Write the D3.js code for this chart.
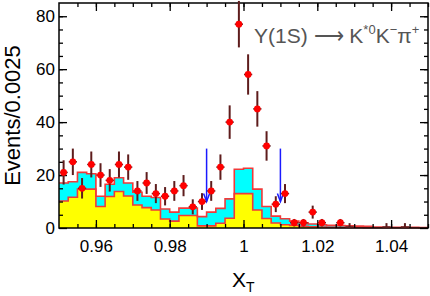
<!DOCTYPE html>
<html>
<head>
<meta charset="utf-8">
<script src="https://cdn.jsdelivr.net/npm/d3@7"></script>
<style>
  body { margin: 0; background: #fff; }
  svg { display: block; font-family: "Liberation Sans", Arial, sans-serif; }
</style>
</head>
<body>
<svg id="chart" width="430" height="296"></svg>
<script>
// X_T histogram, bins of 0.0025 from 0.95 to 1.05
const xStart = 0.95;
const binWidth = 0.0025;

// data points (events per bin)
const counts = [21, 25, 15, 24, 20, 18, 24, 23, 14, 17, 13, 12, 14, 16, 8, 10, 14, 23, 40, 77,
                58, 45, 31, 9, 13, 2, 2, 6, 2, 0, 2, 0, 0, 0, 0, 0, 0, 0, 0, 0];
// empty bins drawn with an upper error bar only
const emptyShown = [31, 35, 37];
const emptyUpper = 1.84;

// stacked background: total (cyan top) and yellow component
const totalBg = [17, 17.5, 21, 20.5, 12, 16.5, 19, 17, 13.5, 12, 11.5, 7.2, 6, 7.5, 7.5, 4.3, 6, 7.4, 11, 22.2,
                 22.6, 14.7, 8.1, 4.5, 3.5, 2.6, 2.0, 1.5, 1.2, 1.0, 0.9, 0.8, 0.7, 0.6, 0.4, 0.3, 0.3, 0.3, 0.3, 0.2];
const yellowBg = [10.2, 11.6, 14.7, 14.7, 8.1, 11.9, 13.8, 12.1, 8.7, 7.7, 6.8, 3.4, 2.6, 4.7, 4.7, 0.8, 0.8, 1.8, 3.7, 13,
                  13, 6.8, 3.6, 1.9, 1.2, 1.0, 0.6, 0.5, 0.4, 0.3, 0.2, 0.2, 0.2, 0.1, 0.1, 0.1, 0.1, 0.1, 0.1, 0.1];

// signal window cuts (arrows)
const cuts = [0.99, 1.01];
const cutTop = 30;
const cutTip = 10;

const xMajor = [0.96, 0.98, 1.0, 1.02, 1.04];
const yMajor = [0, 20, 40, 60, 80];

const width = 430;
const height = 296;
const margin = { top: 3, right: 2, bottom: 68, left: 59 };

const svg = d3.select('#chart');

const x = d3.scaleLinear()
  .domain([0.95, 1.05])
  .range([margin.left, width - margin.right]);

const y = d3.scaleLinear()
  .domain([0, 85])
  .range([height - margin.bottom, margin.top]);

const bins = counts.map((c, i) => ({
  lo: xStart + i * binWidth,
  mid: xStart + (i + 0.5) * binWidth,
  n: c,
  total: totalBg[i],
  yellow: yellowBg[i],
}));
// extra point so the step shape reaches the right edge
const steps = bins.concat([{ lo: 1.05, total: totalBg[totalBg.length - 1], yellow: yellowBg[yellowBg.length - 1] }]);

const area = (key) => d3.area()
  .x((d) => x(d.lo))
  .y0(y(0))
  .y1((d) => y(d[key]))
  .curve(d3.curveStepAfter);

const line = (key) => d3.line()
  .x((d) => x(d.lo))
  .y((d) => y(d[key]))
  .curve(d3.curveStepAfter);

svg.append('path').datum(steps).attr('d', area('total')).attr('fill', '#00ffff');
svg.append('path').datum(steps).attr('d', area('yellow')).attr('fill', '#ffff00');
svg.append('path').datum(steps).attr('d', line('total'))
  .attr('fill', 'none').attr('stroke', '#f03a3a').attr('stroke-width', 1.6);
svg.append('path').datum(steps).attr('d', line('yellow'))
  .attr('fill', 'none').attr('stroke', '#f03a3a').attr('stroke-width', 1.6);

// arrows
const arrows = svg.append('g').attr('stroke', '#1a1aff').attr('fill', 'none').attr('stroke-width', 1.5);
cuts.forEach((c) => {
  arrows.append('line')
    .attr('x1', x(c)).attr('x2', x(c))
    .attr('y1', y(cutTop)).attr('y2', y(cutTip));
  arrows.append('path')
    .attr('d', `M${x(c) - 3},${y(cutTip) - 8} L${x(c)},${y(cutTip)} L${x(c) + 3},${y(cutTip) - 8}`);
});

// axes: ticks on all four sides, pointing inward
const fmt = (d) => String(+d.toFixed(2));
const xMinor = d3.range(0.955, 1.05, 0.005).map((d) => +d.toFixed(3));
const yMinor = d3.range(5, 85, 5);

const axisG = svg.append('g');

axisG.append('g')
  .attr('transform', `translate(0, ${y(0)})`)
  .call(d3.axisBottom(x).tickValues(xMinor).tickSize(-4).tickFormat(''));
axisG.append('g')
  .attr('transform', `translate(0, ${y(0)})`)
  .call(d3.axisBottom(x).tickValues(xMajor).tickSize(-8).tickPadding(12).tickFormat(fmt));
axisG.append('g')
  .attr('transform', `translate(0, ${margin.top})`)
  .call(d3.axisTop(x).tickValues(xMinor).tickSize(-4).tickFormat(''));
axisG.append('g')
  .attr('transform', `translate(0, ${margin.top})`)
  .call(d3.axisTop(x).tickValues(xMajor).tickSize(-8).tickFormat(''));

axisG.append('g')
  .attr('transform', `translate(${margin.left}, 0)`)
  .call(d3.axisLeft(y).tickValues(yMinor).tickSize(-4).tickFormat(''));
axisG.append('g')
  .attr('transform', `translate(${margin.left}, 0)`)
  .call(d3.axisLeft(y).tickValues(yMajor).tickSize(-8).tickPadding(4).tickFormat(fmt));
axisG.append('g')
  .attr('transform', `translate(${width - margin.right}, 0)`)
  .call(d3.axisRight(y).tickValues(yMinor).tickSize(-4).tickFormat(''));
axisG.append('g')
  .attr('transform', `translate(${width - margin.right}, 0)`)
  .call(d3.axisRight(y).tickValues(yMajor).tickSize(-8).tickFormat(''));

axisG.selectAll('.domain').remove();
axisG.selectAll('.tick line').attr('stroke', '#000').attr('stroke-width', 1.3);
axisG.selectAll('text')
  .attr('fill', '#000')
  .style('font-family', '"Liberation Sans", Arial, sans-serif')
  .style('font-size', '17px');

svg.append('rect')
  .attr('x', margin.left)
  .attr('y', margin.top)
  .attr('width', width - margin.left - margin.right)
  .attr('height', y(0) - margin.top)
  .attr('fill', 'none')
  .attr('stroke', '#000')
  .attr('stroke-width', 1.5);

// data points with error bars
const errColor = '#5e1c1c';
const pts = svg.append('g');
const filled = bins.filter((d) => d.n > 0);

pts.selectAll('line.ev')
  .data(filled)
  .enter()
  .append('line')
  .attr('x1', (d) => x(d.mid)).attr('x2', (d) => x(d.mid))
  .attr('y1', (d) => y(d.n + Math.sqrt(d.n)))
  .attr('y2', (d) => y(Math.max(0, d.n - Math.sqrt(d.n))))
  .attr('stroke', errColor).attr('stroke-width', 2);

pts.selectAll('line.eh')
  .data(filled)
  .enter()
  .append('line')
  .attr('x1', (d) => x(d.lo) + 0.5).attr('x2', (d) => x(d.lo + binWidth) - 0.5)
  .attr('y1', (d) => y(d.n)).attr('y2', (d) => y(d.n))
  .attr('stroke', errColor).attr('stroke-width', 1.5);

pts.selectAll('circle')
  .data(filled)
  .enter()
  .append('circle')
  .attr('cx', (d) => x(d.mid))
  .attr('cy', (d) => y(d.n))
  .attr('r', 3.4)
  .attr('fill', '#ff0000');

const empties = emptyShown.map((i) => bins[i]);
pts.selectAll('line.zv')
  .data(empties)
  .enter()
  .append('line')
  .attr('x1', (d) => x(d.mid)).attr('x2', (d) => x(d.mid))
  .attr('y1', y(emptyUpper)).attr('y2', y(0))
  .attr('stroke', errColor).attr('stroke-width', 2);
pts.selectAll('line.zh')
  .data(empties)
  .enter()
  .append('line')
  .attr('x1', (d) => x(d.lo) + 0.5).attr('x2', (d) => x(d.lo + binWidth) - 0.5)
  .attr('y1', y(0) - 1).attr('y2', y(0) - 1)
  .attr('stroke', errColor).attr('stroke-width', 1.5);

// axis titles
svg.append('text')
  .attr('transform', `translate(20, ${(margin.top + y(0)) / 2}) rotate(-90)`)
  .attr('text-anchor', 'middle')
  .style('font-size', '22px')
  .text('Events/0.0025');

const xt = svg.append('text')
  .attr('x', 232)
  .attr('y', 287)
  .style('font-size', '21px');
xt.append('tspan').text('X');
xt.append('tspan').attr('dy', 5).style('font-size', '14px').text('T');

// decay label
const lab = svg.append('text')
  .attr('x', 254)
  .attr('y', 43)
  .attr('fill', '#555')
  .style('font-size', '21px');
lab.append('tspan').text('\u03A5(1S) \u27F6 K');
lab.append('tspan').attr('dy', -9).style('font-size', '13px').text('*0');
lab.append('tspan').attr('dy', 9).text('K');
lab.append('tspan').attr('dy', -9).style('font-size', '13px').text('\u2212');
lab.append('tspan').attr('dy', 9).text('\u03C0');
lab.append('tspan').attr('dy', -9).style('font-size', '13px').text('+');
</script>
</body>
</html>
